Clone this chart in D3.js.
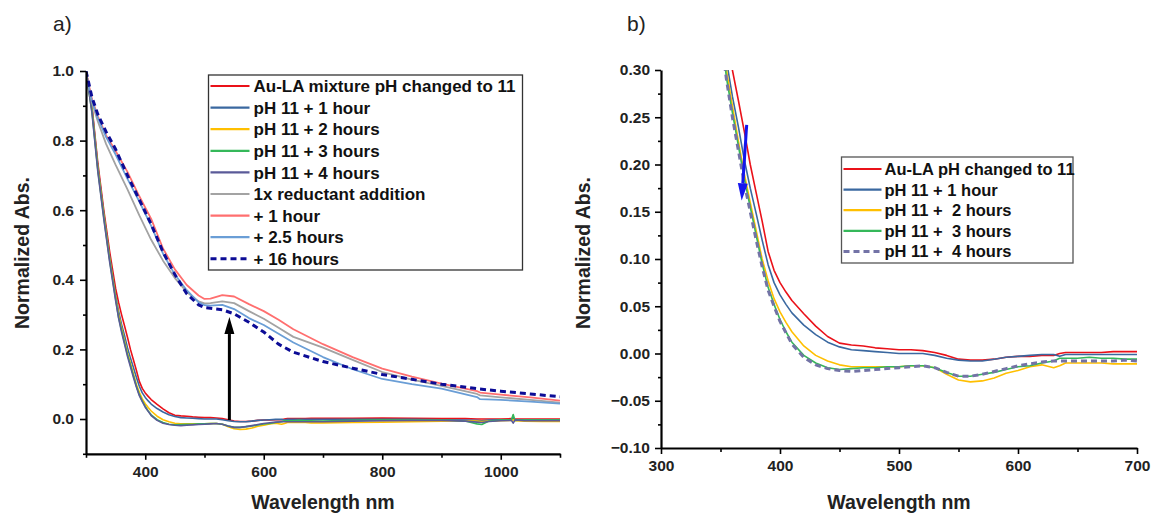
<!DOCTYPE html>
<html>
<head>
<meta charset="utf-8">
<script src="https://cdn.jsdelivr.net/npm/d3@7"></script>
<style>
  body { margin: 0; background: #fff; }
  svg { display: block; }
  text { font-family: "Liberation Sans", Arial, sans-serif; }
</style>
</head>
<body>
<svg width="1151" height="514"></svg>
<script>
// wavelength grid for the pH series (nm)
var wlPH = [300,305,310,320,330,340,350,355,360,365,370,375,380,385,390,395,400,405,410,420,430,440,450,460,470,480,490,
  500,510,520,530,540,550,560,570,580,590,600,610,620,630,635,640,650,660,670,680,690,700,750,800,850,900,940,960,968,980,
  1000,1018,1021,1024,1040,1070,1100];

var phRed = [1.0,0.955,0.9,0.735,0.6,0.48,0.375,0.335,0.3,0.268,0.235,0.2,0.17,0.14,0.108,0.088,0.075,0.065,0.056,0.042,0.029,0.018,0.011,0.009,0.008,0.006,0.005,
  0.004,0.004,0.003,0.001,-0.002,-0.006,-0.007,-0.007,-0.006,-0.004,-0.003,-0.003,-0.002,-0.002,0.0,0.001,0.001,0.001,0.001,0.002,0.002,0.002,0.002,0.003,0.002,0.001,0.001,0.0,0.0,0.0,
  0.0,0.001,0.0,0.0,0.0,0.0,0.0];
var ph1h = [1.0,0.95,0.895,0.725,0.59,0.465,0.355,0.31,0.272,0.24,0.205,0.175,0.148,0.12,0.094,0.075,0.062,0.052,0.043,0.03,0.02,0.012,0.007,0.004,0.003,0.002,0.001,
  0.0,0.0,0.0,-0.002,-0.005,-0.007,-0.008,-0.008,-0.006,-0.004,-0.003,-0.002,-0.001,-0.001,-0.003,-0.001,-0.001,-0.001,-0.001,-0.001,-0.001,-0.001,-0.001,-0.001,-0.001,-0.002,-0.003,-0.004,-0.005,-0.003,
  -0.002,-0.002,0.004,-0.003,-0.002,-0.002,-0.002];
var ph2h = [0.995,0.945,0.89,0.72,0.585,0.46,0.35,0.3,0.262,0.225,0.19,0.16,0.13,0.1,0.077,0.058,0.044,0.033,0.023,0.008,-0.002,-0.008,-0.012,-0.014,-0.014,-0.014,-0.014,
  -0.014,-0.013,-0.013,-0.015,-0.022,-0.028,-0.03,-0.029,-0.026,-0.021,-0.018,-0.014,-0.012,-0.015,-0.013,-0.01,-0.01,-0.01,-0.01,-0.011,-0.011,-0.011,-0.01,-0.009,-0.008,-0.006,-0.005,-0.006,-0.007,-0.006,
  -0.005,-0.004,-0.002,-0.005,-0.006,-0.007,-0.007];
var ph3h = [0.99,0.94,0.885,0.715,0.58,0.455,0.345,0.292,0.255,0.22,0.185,0.155,0.125,0.095,0.07,0.052,0.036,0.023,0.012,-0.002,-0.01,-0.015,-0.017,-0.016,-0.015,-0.015,-0.014,
  -0.014,-0.013,-0.013,-0.015,-0.02,-0.024,-0.024,-0.022,-0.02,-0.017,-0.014,-0.013,-0.01,-0.008,-0.005,-0.005,-0.005,-0.004,-0.005,-0.005,-0.006,-0.006,-0.004,-0.003,-0.002,-0.002,-0.006,-0.014,-0.016,-0.006,
  -0.003,-0.002,0.013,-0.004,-0.003,-0.003,-0.003];
var ph4h = [0.99,0.94,0.88,0.71,0.575,0.45,0.34,0.29,0.25,0.215,0.18,0.15,0.12,0.092,0.067,0.05,0.034,0.022,0.01,-0.004,-0.012,-0.016,-0.018,-0.019,-0.018,-0.017,-0.016,
  -0.015,-0.014,-0.013,-0.015,-0.02,-0.024,-0.024,-0.022,-0.019,-0.016,-0.013,-0.011,-0.009,-0.008,-0.008,-0.008,-0.008,-0.008,-0.008,-0.008,-0.007,-0.008,-0.006,-0.005,-0.004,-0.004,-0.006,-0.009,-0.01,-0.007,
  -0.005,-0.004,-0.012,-0.003,-0.005,-0.005,-0.005];

// wavelength grid for the reductant series (nm)
var wlRed = [300,304,310,320,334,350,370,390,410,430,450,470,490,500,510,530,550,575,600,625,650,700,750,800,850,900,960,965,1000,1050,1100];
var red1x = [1.0,0.96,0.91,0.855,0.79,0.73,0.66,0.585,0.515,0.455,0.405,0.365,0.338,0.332,0.333,0.338,0.333,0.31,0.288,0.262,0.236,0.205,0.17,0.135,0.113,0.095,0.072,0.068,0.062,0.055,0.047];
var red1h = [1.0,0.965,0.92,0.87,0.815,0.77,0.71,0.64,0.575,0.49,0.43,0.385,0.355,0.345,0.346,0.356,0.352,0.33,0.31,0.285,0.258,0.215,0.178,0.145,0.122,0.102,0.08,0.076,0.07,0.062,0.053];
var red25h = [1.0,0.96,0.915,0.865,0.81,0.76,0.69,0.625,0.555,0.475,0.415,0.37,0.335,0.327,0.326,0.328,0.316,0.29,0.27,0.245,0.22,0.178,0.143,0.115,0.1,0.087,0.063,0.057,0.055,0.05,0.044];
var red16h = [1.0,0.97,0.925,0.875,0.825,0.775,0.7,0.63,0.56,0.48,0.415,0.36,0.328,0.32,0.318,0.314,0.302,0.278,0.25,0.215,0.192,0.165,0.146,0.128,0.114,0.1,0.087,0.086,0.08,0.072,0.064];

// legends
var labelsA = ["Au-LA mixture pH changed to 11","pH 11 + 1 hour","pH 11 + 2 hours","pH 11 + 3 hours","pH 11 + 4 hours",
  "1x reductant addition","+ 1 hour","+ 2.5 hours","+ 16 hours"];
var labelsB = ["Au-LA pH changed to 11","pH 11 + 1 hour","pH 11 +  2 hours","pH 11 +  3 hours","pH 11 +  4 hours"];

// tick values
var ticksAx = [400,600,800,1000], minorAx = [300,500,700,900,1100];
var ticksAy = [0,0.2,0.4,0.6,0.8,1.0], minorAy = [-0.1,0.1,0.3,0.5,0.7,0.9];
var ticksBx = [300,400,500,600,700], minorBx = [350,450,550,650];
var ticksBy = [-0.1,-0.05,0,0.05,0.1,0.15,0.2,0.25,0.3], minorBy = [-0.075,-0.025,0.025,0.075,0.125,0.175,0.225,0.275];

// arrows [x1,y1,x2,y2] in data units (tip at x2,y2)
var arrowA = [542,-0.003,542,0.293];
var arrowB = [372,0.242,367.8,0.162];

var svg = d3.select("svg");

var seriesA = [
  {wl: wlPH, v: phRed, color: "#ea1119", w: 1.6},
  {wl: wlPH, v: ph1h, color: "#3a68a0", w: 1.6},
  {wl: wlPH, v: ph2h, color: "#ffbf00", w: 1.6},
  {wl: wlPH, v: ph3h, color: "#35b85a", w: 1.6},
  {wl: wlPH, v: ph4h, color: "#5a5a98", w: 1.6},
  {wl: wlRed, v: red1x, color: "#a3a3a3", w: 1.8},
  {wl: wlRed, v: red1h, color: "#ff6f6f", w: 1.8},
  {wl: wlRed, v: red25h, color: "#6a9ed6", w: 1.8},
  {wl: wlRed, v: red16h, color: "#0c0c96", w: 3, dash: "6,4"}
];
var seriesB = [
  {wl: wlPH, v: phRed, color: "#ea1119", w: 1.6},
  {wl: wlPH, v: ph1h, color: "#3a68a0", w: 1.6},
  {wl: wlPH, v: ph2h, color: "#ffbf00", w: 1.6},
  {wl: wlPH, v: ph3h, color: "#35b85a", w: 1.6},
  {wl: wlPH, v: ph4h, color: "#7373a6", w: 3, dash: "6,4"}
];

function panel(cfg) {
  var x = d3.scaleLinear().domain(cfg.xd).range(cfg.xr);
  var y = d3.scaleLinear().domain(cfg.yd).range(cfg.yr);
  var g = svg.append("g");

  g.append("clipPath").attr("id", "clip" + cfg.id)
    .append("rect").attr("x", cfg.xr[0]).attr("y", cfg.yr[1])
    .attr("width", cfg.xr[1] - cfg.xr[0]).attr("height", cfg.yr[0] - cfg.yr[1]);

  var line = d3.line().x(function(d) { return x(d[0]); }).y(function(d) { return y(d[1]); });

  g.append("g").attr("clip-path", "url(#clip" + cfg.id + ")")
    .selectAll("path").data(cfg.series).enter().append("path")
    .attr("d", function(s) { return line(s.wl.map(function(w, i) { return [w, s.v[i]]; })); })
    .attr("fill", "none")
    .attr("stroke", function(s) { return s.color; })
    .attr("stroke-width", function(s) { return s.w; })
    .attr("stroke-dasharray", function(s) { return s.dash || null; })
    .attr("stroke-linejoin", "round");

  // arrow
  var a = cfg.arrow;
  var x1 = x(a[0]), y1 = y(a[1]), x2 = x(a[2]), y2 = y(a[3]);
  var len = Math.hypot(x2 - x1, y2 - y1), ux = (x2 - x1) / len, uy = (y2 - y1) / len;
  var hl = cfg.headLen, hw = cfg.headW / 2;
  var bx = x2 - ux * hl, by = y2 - uy * hl;
  g.append("line").attr("x1", x1).attr("y1", y1).attr("x2", bx).attr("y2", by)
    .attr("stroke", cfg.arrowColor).attr("stroke-width", cfg.arrowW);
  g.append("path")
    .attr("d", "M" + x2 + "," + y2 + "L" + (bx - uy * hw) + "," + (by + ux * hw) +
      "L" + (bx + uy * hw) + "," + (by - ux * hw) + "Z")
    .attr("fill", cfg.arrowColor);

  // axes
  g.append("g").attr("transform", "translate(0," + cfg.yr[0] + ")")
    .call(d3.axisBottom(x).tickValues(cfg.xt).tickSize(6).tickSizeOuter(0).tickPadding(6).tickFormat(d3.format("d")));
  g.append("g").attr("transform", "translate(0," + cfg.yr[0] + ")")
    .call(d3.axisBottom(x).tickValues(cfg.xm).tickSize(4).tickFormat(""))
    .select(".domain").remove();
  g.append("g").attr("transform", "translate(" + cfg.xr[0] + ",0)")
    .call(d3.axisLeft(y).tickValues(cfg.yt).tickSize(6).tickSizeOuter(0).tickPadding(cfg.ypad).tickFormat(d3.format(cfg.yfmt)));
  g.append("g").attr("transform", "translate(" + cfg.xr[0] + ",0)")
    .call(d3.axisLeft(y).tickValues(cfg.ym).tickSize(3).tickFormat(""))
    .select(".domain").remove();

  g.selectAll(".tick line").attr("stroke", "#000").attr("stroke-width", 1.6);
  g.selectAll(".domain").attr("stroke", "#000").attr("stroke-width", 2.2);
  g.selectAll(".tick text").attr("fill", "#222").style("font-size", "15.5px").style("font-weight", "bold")
    .style("font-family", "'Liberation Sans', Arial, sans-serif");

  // axis titles
  g.append("text").attr("x", (cfg.xr[0] + cfg.xr[1]) / 2 + cfg.xtOff).attr("y", 509)
    .attr("text-anchor", "middle").style("font-size", "19.5px").style("font-weight", "bold").attr("fill", "#222")
    .text("Wavelength nm");
  g.append("text").attr("transform", "translate(" + cfg.ytx + ",253) rotate(-90)")
    .attr("text-anchor", "middle").attr("dy", "0.35em")
    .style("font-size", "19.5px").style("font-weight", "bold").attr("fill", "#222")
    .text("Normalized Abs.");

  // panel letter
  g.append("text").attr("x", cfg.letterX).attr("y", 31).style("font-size", "21px").attr("fill", "#222")
    .text(cfg.letter);

  // legend
  var L = cfg.legend;
  g.append("rect").attr("x", L.x).attr("y", L.y).attr("width", L.w).attr("height", L.h)
    .attr("fill", "#fff").attr("stroke", L.stroke).attr("stroke-width", 1.3);
  var rows = g.selectAll(".leg").data(cfg.series).enter().append("g")
    .attr("transform", function(d, i) { return "translate(0," + (L.y0 + i * L.dy) + ")"; });
  rows.append("line").attr("x1", L.x + 2).attr("x2", L.x + 2 + L.lw).attr("y1", 0).attr("y2", 0)
    .attr("stroke", function(s) { return s.color; })
    .attr("stroke-width", function(s) { return s.dash ? s.w : 2.2; })
    .attr("stroke-dasharray", function(s) { return s.dash || null; });
  rows.append("text").attr("x", L.x + L.tx).attr("y", 0).attr("dy", "0.36em")
    .style("font-size", L.fs).style("font-weight", "bold").style("white-space", "pre").attr("fill", "#111")
    .text(function(d, i) { return cfg.labels[i]; });
}

panel({
  id: "A", xd: [300, 1100], xr: [86, 560], yd: [-0.1, 1.0], yr: [453.8, 71],
  series: seriesA, labels: labelsA,
  xt: ticksAx, xm: minorAx, yt: ticksAy, ym: minorAy, yfmt: ".1f", ypad: 6,
  arrow: arrowA, arrowColor: "#000", arrowW: 3, headLen: 17, headW: 10,
  xtOff: 0, ytx: 22, letter: "a)", letterX: 53,
  legend: {x: 208.5, y: 75, w: 314, h: 195, y0: 86, dy: 21.6, lw: 39, tx: 45, stroke: "#333", fs: "17px"}
});

panel({
  id: "B", xd: [300, 700], xr: [661, 1137], yd: [-0.1, 0.3], yr: [448, 70],
  series: seriesB, labels: labelsB,
  xt: ticksBx, xm: minorBx, yt: ticksBy, ym: minorBy, yfmt: ".2f", ypad: 5,
  arrow: arrowB, arrowColor: "#1515ee", arrowW: 3, headLen: 17, headW: 10,
  xtOff: 0, ytx: 583, letter: "b)", letterX: 627,
  legend: {x: 841.5, y: 157, w: 231.5, h: 106, y0: 169, dy: 20.6, lw: 38, tx: 43, stroke: "#555", fs: "16.5px"}
});
</script>
</body>
</html>
